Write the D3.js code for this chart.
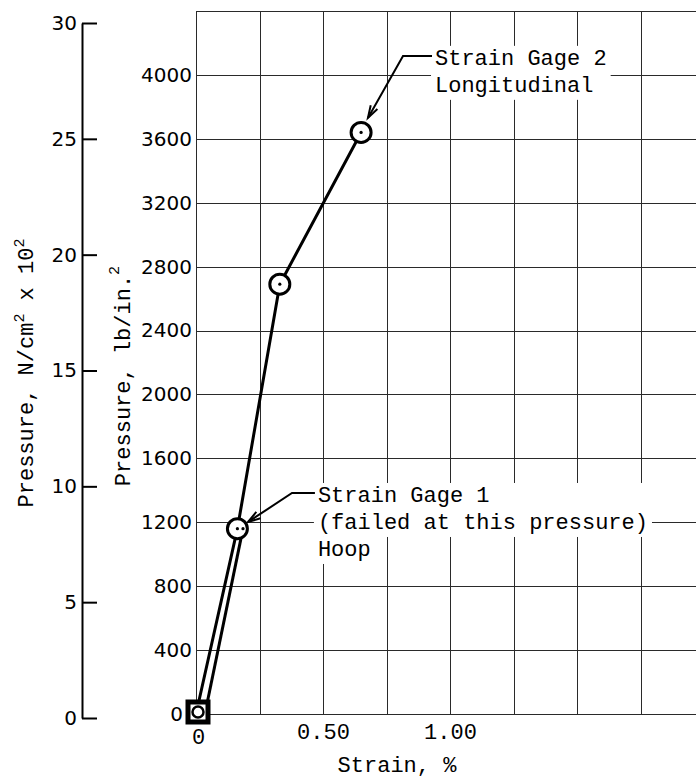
<!DOCTYPE html>
<html><head><meta charset="utf-8">
<script src="https://cdn.jsdelivr.net/npm/d3@7"></script>
<style>body{margin:0;background:#fff}</style>
</head><body>
<svg id="c" width="696" height="778"></svg>
<script>
// ---- data ----
const strainGrid = [0, 0.25, 0.5, 0.75, 1.0, 1.25, 1.5, 1.75, 2.0];
const strainTickValues = [0, 0.5, 1.0];
const strainTickLabels = ["0", "0.50", "1.00"];
const psiGrid = [0, 400, 800, 1200, 1600, 2000, 2400, 2800, 3200, 3600, 4000, 4400];
const psiTicks = [0, 400, 800, 1200, 1600, 2000, 2400, 2800, 3200, 3600, 4000];
const ncmTicks = [0, 5, 10, 15, 20, 25, 30];
const hoopStrain = [0.035, 0.185];
const hoopPsi = [0, 1160];
const longStrain = [0, 0.163, 0.33, 0.65];
const longPsi = [0, 1160, 2690, 3640];

const MONO = "'Liberation Mono', 'DejaVu Sans Mono', monospace";
const SANS = "'DejaVu Sans', sans-serif";
const FS = 22;

const svg = d3.select("#c");
const x = d3.scaleLinear().domain([0, 2.0]).range([196, 704]);
const yP = d3.scaleLinear().domain([0, 4400]).range([714, 11]);
const yN = d3.scaleLinear().domain([0, 30]).range([718, 23]);

// ---- grid ----
const grid = svg.append("g").attr("stroke", "#2a2a2a").attr("stroke-width", 1).attr("shape-rendering", "crispEdges");
grid.selectAll("line.v").data(strainGrid).join("line").attr("class", "v")
  .attr("x1", d => Math.round(x(d)) + 0.5).attr("x2", d => Math.round(x(d)) + 0.5)
  .attr("y1", yP(4400)).attr("y2", yP(0));
grid.selectAll("line.h").data(psiGrid).join("line").attr("class", "h")
  .attr("y1", d => Math.round(yP(d)) + 0.5).attr("y2", d => Math.round(yP(d)) + 0.5)
  .attr("x1", x(0)).attr("x2", x(2.0));

// ---- left axis N/cm^2 x 10^2 ----
const axN = svg.append("g").attr("transform", "translate(82,0)")
  .call(d3.axisLeft(yN).tickValues(ncmTicks).tickSize(-15).tickSizeOuter(0).tickPadding(5).tickFormat(d3.format("d")));
axN.select(".domain").attr("stroke", "#000").attr("stroke-width", 2);
axN.selectAll(".tick line").attr("stroke", "#000").attr("stroke-width", 2);
axN.selectAll("text").attr("font-family", SANS).attr("font-size", 20).attr("fill", "#000");

// ---- psi axis ----
const axP = svg.append("g").attr("transform", "translate(196,0)")
  .call(d3.axisLeft(yP).tickValues(psiTicks).tickSize(0).tickPadding(4).tickFormat(d3.format("d")));
axP.select(".domain").remove();
axP.selectAll("text").attr("font-family", SANS).attr("font-size", 20).attr("fill", "#000");
axP.selectAll(".tick").filter(d => d === 0).select("text").attr("dx", -9);

// ---- x axis ----
const axX = svg.append("g").attr("transform", "translate(0,714)")
  .call(d3.axisBottom(x).tickValues(strainTickValues).tickSize(0).tickPadding(9)
    .tickFormat((d, i) => strainTickLabels[i]));
axX.select(".domain").remove();
axX.selectAll("text").attr("font-family", MONO).attr("font-size", FS).attr("fill", "#000");
axX.selectAll(".tick").filter(d => d === 0).select("text").attr("dx", 2).attr("y", 14);

// ---- axis titles ----
svg.append("text").attr("x", 397).attr("y", 772).attr("text-anchor", "middle")
  .attr("font-family", MONO).attr("font-size", FS).text("Strain, %");

const t1 = svg.append("text").attr("transform", "translate(33,373) rotate(-90)")
  .attr("text-anchor", "middle").attr("font-family", MONO).attr("font-size", FS);
t1.append("tspan").text("Pressure, N/cm");
t1.append("tspan").attr("font-size", 15).attr("dy", -9).text("2");
t1.append("tspan").attr("dy", 9).text(" x 10");
t1.append("tspan").attr("font-size", 15).attr("dy", -9).text("2");

const t2 = svg.append("text").attr("transform", "translate(130,376) rotate(-90)")
  .attr("text-anchor", "middle").attr("font-family", MONO).attr("font-size", FS);
t2.append("tspan").text("Pressure, lb/in.");
t2.append("tspan").attr("font-size", 15).attr("dy", -11).text("2");

// ---- data lines ----
const line = d3.line().x(d => x(d[0])).y(d => yP(d[1]));
const hoopPts = hoopStrain.map((s, i) => [s, hoopPsi[i]]);
const longPts = longStrain.map((s, i) => [s, longPsi[i]]);
svg.append("path").datum(hoopPts).attr("d", line).attr("fill", "none")
  .attr("stroke", "#000").attr("stroke-width", 3).attr("stroke-linejoin", "round");
svg.append("path").datum(longPts).attr("d", line).attr("fill", "none")
  .attr("stroke", "#000").attr("stroke-width", 3).attr("stroke-linejoin", "round");

// origin marker (square)
svg.append("rect").attr("x", x(longPts[0][0]) - 8).attr("y", yP(longPts[0][1]) - 12)
  .attr("width", 20).attr("height", 20).attr("fill", "#fff").attr("stroke", "#000").attr("stroke-width", 5);
svg.append("circle").attr("cx", x(longPts[0][0]) + 2).attr("cy", yP(longPts[0][1]) - 2).attr("r", 5.5)
  .attr("fill", "#fff").attr("stroke", "#000").attr("stroke-width", 2.5);

// circle markers
svg.selectAll("circle.m").data(longPts.slice(1)).join("circle").attr("class", "m")
  .attr("cx", d => x(d[0])).attr("cy", d => yP(d[1])).attr("r", 10)
  .attr("fill", "#fff").attr("stroke", "#000").attr("stroke-width", 3);
svg.selectAll("circle.dot").data(longPts.slice(1).concat(hoopPts.slice(1))).join("circle").attr("class", "dot")
  .attr("cx", d => x(d[0])).attr("cy", d => yP(d[1])).attr("r", 1.6).attr("fill", "#000");

// ---- annotations ----
function annotate(lines, tx, ty, knee, tip, groups) {
  const g = svg.append("g");
  const bg = g.append("g");
  const texts = lines.map((s, i) => g.append("text").attr("x", tx).attr("y", ty + i * 27)
    .attr("font-family", MONO).attr("font-size", FS).attr("fill", "#000").text(s));
  groups.forEach(idx => {
    let x0 = 1e9, y0 = 1e9, x1 = -1e9, y1 = -1e9;
    idx.forEach(i => {
      const b = texts[i].node().getBBox();
      x0 = Math.min(x0, b.x); y0 = Math.min(y0, b.y);
      x1 = Math.max(x1, b.x + b.width); y1 = Math.max(y1, b.y + b.height);
    });
    bg.append("rect").attr("x", x0 - 4).attr("y", y0 - 1).attr("width", x1 - x0 + 8).attr("height", y1 - y0 + 2).attr("fill", "#fff");
  });
  g.append("path").attr("d", `M${tx - 3},${knee[1]} L${knee[0]},${knee[1]} L${tip[0]},${tip[1]}`)
    .attr("fill", "none").attr("stroke", "#000").attr("stroke-width", 2);
  const ang = Math.atan2(knee[1] - tip[1], knee[0] - tip[0]);
  const L = 13, a = 0.3;
  const p1 = [tip[0] + L * Math.cos(ang + a), tip[1] + L * Math.sin(ang + a)];
  const p2 = [tip[0] + L * Math.cos(ang - a), tip[1] + L * Math.sin(ang - a)];
  g.append("path").attr("d", `M${p1[0]},${p1[1]} L${tip[0]},${tip[1]} L${p2[0]},${p2[1]}`)
    .attr("fill", "none").attr("stroke", "#000").attr("stroke-width", 2);
}
annotate(["Strain Gage 1", "(failed at this pressure)", "Hoop"],
  x(0.48), yP(1327), [x(0.378), yP(1383)], [x(0.205), yP(1202)], [[0, 1], [2]]);
annotate(["Strain Gage 2", "Longitudinal"],
  x(0.941), yP(4063), [x(0.815), yP(4119)], [x(0.677), yP(3731)], [[0, 1]]);
</script>
</body></html>
